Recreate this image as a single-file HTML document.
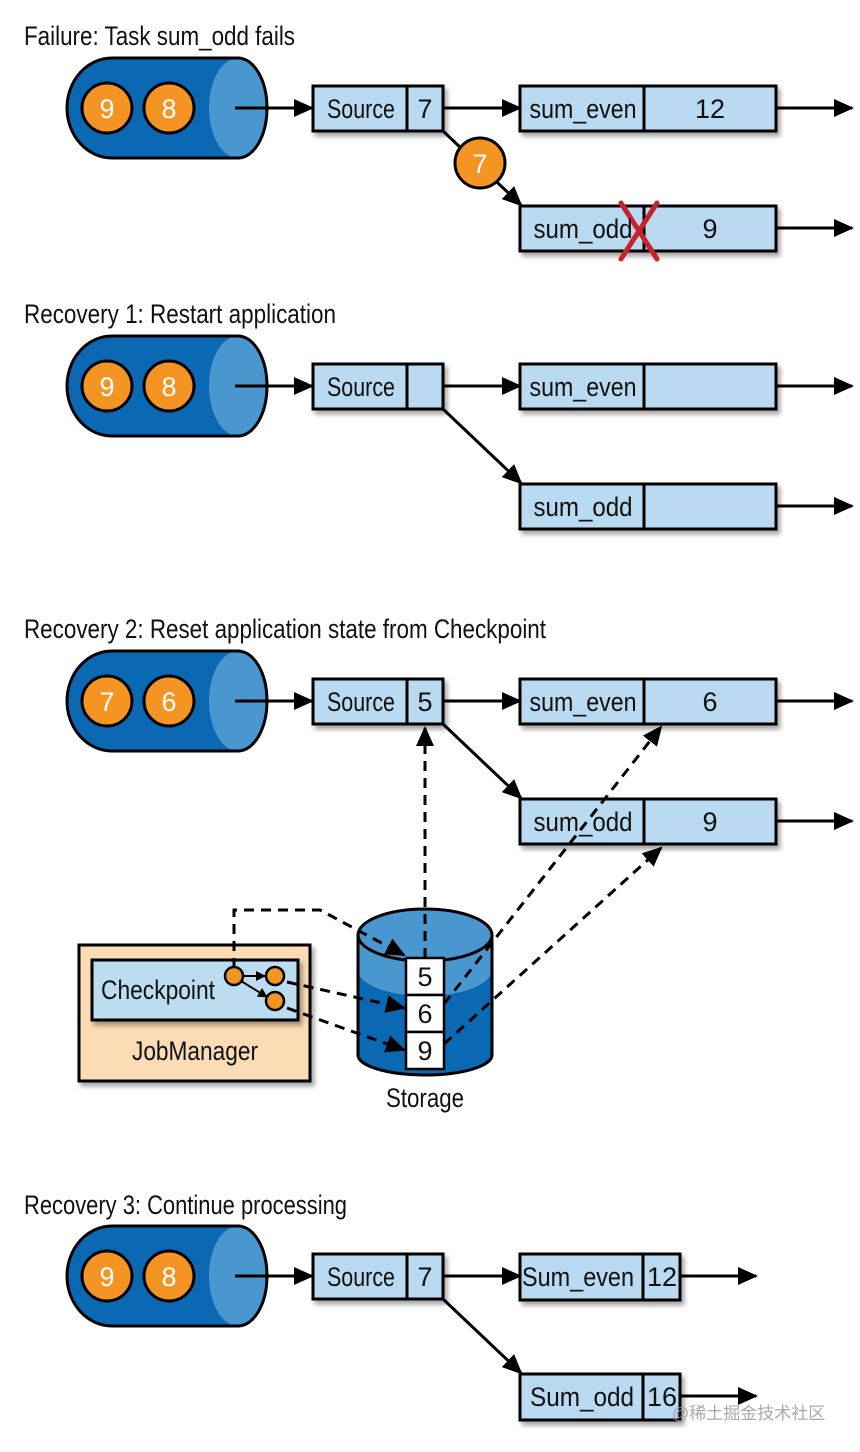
<!DOCTYPE html>
<html><head><meta charset="utf-8"><style>
html,body{margin:0;padding:0;background:#fff;}
svg{display:block;font-family:"Liberation Sans","Noto Sans CJK SC",sans-serif;}
</style></head><body>
<svg width="860" height="1452" viewBox="0 0 860 1452" xmlns="http://www.w3.org/2000/svg">
<defs>
<marker id="ar" markerWidth="10" markerHeight="10" refX="9" refY="5" orient="auto" markerUnits="userSpaceOnUse" viewBox="0 0 10 10">
<path d="M0,0 L10,5 L0,10 Z" fill="#000"/></marker>
<marker id="a2" markerWidth="20" markerHeight="20" refX="18" refY="10" orient="auto" markerUnits="userSpaceOnUse" viewBox="0 0 20 20">
<path d="M0,1 L20,10 L0,19 Z" fill="#000"/></marker>
<filter id="sh" x="-10%" y="-20%" width="130%" height="160%"><feDropShadow dx="3" dy="4" stdDeviation="2.5" flood-color="#000" flood-opacity="0.35"/></filter>
<g id="cyl">
<path d="M112,58 H238 V158 H112 A45 50 0 0 1 112 58 Z" fill="#0b68b3" stroke="#000" stroke-width="3"/>
<ellipse cx="238" cy="108" rx="29" ry="50" fill="#4a96cf" stroke="none"/>
<path d="M238,58 A29 50 0 0 1 238 158" fill="none" stroke="#000" stroke-width="3"/>
<path d="M112,58 H238 M238,158 H112" stroke="#000" stroke-width="3"/>
<circle cx="107" cy="108" r="25" fill="#f39423" stroke="#000" stroke-width="3"/>
<circle cx="169" cy="108" r="25" fill="#f39423" stroke="#000" stroke-width="3"/>
<line x1="235" y1="108" x2="312" y2="108" stroke="#000" stroke-width="3" marker-end="url(#a2)"/>
</g>
<g id="src">
<rect x="313" y="86" width="130" height="45" fill="#b9daf0" stroke="#000" stroke-width="3" filter="url(#sh)"/>
<line x1="407" y1="86" x2="407" y2="131" stroke="#000" stroke-width="3"/>
</g>
<g id="big">
<rect x="520" y="86" width="256" height="45" fill="#b9daf0" stroke="#000" stroke-width="3" filter="url(#sh)"/>
<line x1="644" y1="86" x2="644" y2="131" stroke="#000" stroke-width="3"/>
<line x1="776" y1="108" x2="852" y2="108" stroke="#000" stroke-width="3" marker-end="url(#a2)"/>
</g>
</defs>

<g font-size="27" fill="#111">
<text x="24" y="45" textLength="271" lengthAdjust="spacingAndGlyphs">Failure: Task sum_odd fails</text>
<text x="24" y="323" textLength="312" lengthAdjust="spacingAndGlyphs">Recovery 1: Restart application</text>
<text x="24" y="638" textLength="522" lengthAdjust="spacingAndGlyphs">Recovery 2: Reset application state from Checkpoint</text>
<text x="24" y="1214" textLength="323" lengthAdjust="spacingAndGlyphs">Recovery 3: Continue processing</text>
</g>

<g>
<use href="#cyl"/>
<use href="#src"/>
<use href="#big"/>
<use href="#big" y="120"/>
<line x1="443" y1="108" x2="520" y2="108" stroke="#000" stroke-width="3" marker-end="url(#a2)"/>
<line x1="443" y1="131" x2="521" y2="205" stroke="#000" stroke-width="3" marker-end="url(#a2)"/>
<circle cx="480" cy="163" r="25" fill="#f39423" stroke="#000" stroke-width="3"/>
</g>
<g transform="translate(0,278)">
<use href="#cyl"/>
<use href="#src"/>
<use href="#big"/>
<use href="#big" y="120"/>
<line x1="443" y1="108" x2="520" y2="108" stroke="#000" stroke-width="3" marker-end="url(#a2)"/>
<line x1="443" y1="131" x2="521" y2="205" stroke="#000" stroke-width="3" marker-end="url(#a2)"/>
</g>
<g transform="translate(0,593)">
<use href="#cyl"/>
<use href="#src"/>
<use href="#big"/>
<use href="#big" y="120"/>
<line x1="443" y1="108" x2="520" y2="108" stroke="#000" stroke-width="3" marker-end="url(#a2)"/>
<line x1="443" y1="131" x2="521" y2="205" stroke="#000" stroke-width="3" marker-end="url(#a2)"/>
</g>
<g transform="translate(0,1168)">
<use href="#cyl"/>
<use href="#src"/>
<rect x="520" y="86" width="160" height="46" fill="#b9daf0" stroke="#000" stroke-width="3" filter="url(#sh)"/>
<line x1="643" y1="86" x2="643" y2="132" stroke="#000" stroke-width="3"/>
<rect x="520" y="206" width="160" height="46" fill="#b9daf0" stroke="#000" stroke-width="3" filter="url(#sh)"/>
<line x1="643" y1="206" x2="643" y2="252" stroke="#000" stroke-width="3"/>
<line x1="680" y1="108" x2="756" y2="108" stroke="#000" stroke-width="3" marker-end="url(#a2)"/>
<line x1="680" y1="228" x2="756" y2="228" stroke="#000" stroke-width="3" marker-end="url(#a2)"/>
<line x1="443" y1="108" x2="520" y2="108" stroke="#000" stroke-width="3" marker-end="url(#a2)"/>
<line x1="443" y1="131" x2="521" y2="205" stroke="#000" stroke-width="3" marker-end="url(#a2)"/>
</g>

<rect x="79" y="945" width="231" height="136" fill="#fbdcb5" stroke="#000" stroke-width="3" filter="url(#sh)"/>
<rect x="92" y="960" width="206" height="60" fill="#bcdcf0" stroke="#000" stroke-width="3" filter="url(#sh)"/>
<path d="M358,935 V1055 A67 20 0 0 0 492 1055 V935" fill="#0b68b3" stroke="#000" stroke-width="3"/>
<path d="M358,935 A67 26 0 0 1 492 935 V970 A67 26 0 0 1 358 970 Z" fill="#4a96cf"/>
<ellipse cx="425" cy="935" rx="67" ry="26" fill="#4a96cf" stroke="#000" stroke-width="3"/>
<line x1="358" y1="935" x2="358" y2="1055" stroke="#000" stroke-width="3"/>
<line x1="492" y1="935" x2="492" y2="1055" stroke="#000" stroke-width="3"/>
<rect x="406" y="958" width="38" height="37" fill="#fff" stroke="#000" stroke-width="2.5"/>
<rect x="406" y="995" width="38" height="37" fill="#fff" stroke="#000" stroke-width="2.5"/>
<rect x="406" y="1032" width="38" height="37" fill="#fff" stroke="#000" stroke-width="2.5"/>

<g stroke="#000" stroke-width="3" fill="none" stroke-dasharray="10,7">
<path d="M234,968 V910 H320 L404,955" marker-end="url(#a2)"/>
<path d="M287,982 L404,1008" marker-end="url(#a2)"/>
<path d="M287,1008 L404,1050" marker-end="url(#a2)"/>
<path d="M425,958 V728" marker-end="url(#a2)"/>
<path d="M444,1004 L661,727" marker-end="url(#a2)"/>
<path d="M444,1044 L661,848" marker-end="url(#a2)"/>
</g>
<line x1="243" y1="976" x2="265" y2="976" stroke="#000" stroke-width="2" marker-end="url(#ar)"/>
<line x1="241" y1="981" x2="267" y2="997" stroke="#000" stroke-width="2" marker-end="url(#ar)"/>
<circle cx="234" cy="976" r="9" fill="#f39423" stroke="#000" stroke-width="2.5"/>
<circle cx="275" cy="976" r="9" fill="#f39423" stroke="#000" stroke-width="2.5"/>
<circle cx="275" cy="1001" r="9" fill="#f39423" stroke="#000" stroke-width="2.5"/>

<g stroke="#c8232c" stroke-width="5" stroke-linecap="round">
<line x1="621" y1="203" x2="657" y2="259"/>
<line x1="657" y1="203" x2="621" y2="259"/>
</g>

<g font-size="27" fill="#111" text-anchor="middle">
<g fill="#fff">
<text x="107" y="118">9</text><text x="169" y="118">8</text>
<text x="107" y="396">9</text><text x="169" y="396">8</text>
<text x="107" y="711">7</text><text x="169" y="711">6</text>
<text x="107" y="1286">9</text><text x="169" y="1286">8</text>
<text x="480" y="173">7</text>
</g>
<text x="361" y="118" textLength="68" lengthAdjust="spacingAndGlyphs">Source</text>
<text x="425" y="118">7</text>
<text x="583" y="118" textLength="107" lengthAdjust="spacingAndGlyphs">sum_even</text>
<text x="710" y="118">12</text>
<text x="583" y="238" textLength="99" lengthAdjust="spacingAndGlyphs">sum_odd</text>
<text x="710" y="238">9</text>

<text x="361" y="396" textLength="68" lengthAdjust="spacingAndGlyphs">Source</text>
<text x="583" y="396" textLength="107" lengthAdjust="spacingAndGlyphs">sum_even</text>
<text x="583" y="516" textLength="99" lengthAdjust="spacingAndGlyphs">sum_odd</text>

<text x="361" y="711" textLength="68" lengthAdjust="spacingAndGlyphs">Source</text>
<text x="425" y="711">5</text>
<text x="583" y="711" textLength="107" lengthAdjust="spacingAndGlyphs">sum_even</text>
<text x="710" y="711">6</text>
<text x="583" y="831" textLength="99" lengthAdjust="spacingAndGlyphs">sum_odd</text>
<text x="710" y="831">9</text>

<text x="425" y="986">5</text>
<text x="425" y="1023">6</text>
<text x="425" y="1060">9</text>
<text x="158" y="999" textLength="114" lengthAdjust="spacingAndGlyphs">Checkpoint</text>
<text x="195" y="1060" textLength="126" lengthAdjust="spacingAndGlyphs">JobManager</text>
<text x="425" y="1107" textLength="78" lengthAdjust="spacingAndGlyphs">Storage</text>

<text x="361" y="1286" textLength="68" lengthAdjust="spacingAndGlyphs">Source</text>
<text x="425" y="1286">7</text>
<text x="578" y="1286" textLength="112" lengthAdjust="spacingAndGlyphs">Sum_even</text>
<text x="662" y="1286">12</text>
<text x="582" y="1406" textLength="104" lengthAdjust="spacingAndGlyphs">Sum_odd</text>
<text x="662" y="1406">16</text>
</g>
<text x="672" y="1419" font-size="17" fill="#9a9a9a" fill-opacity="0.85">@稀土掘金技术社区</text>
</svg>
</body></html>
